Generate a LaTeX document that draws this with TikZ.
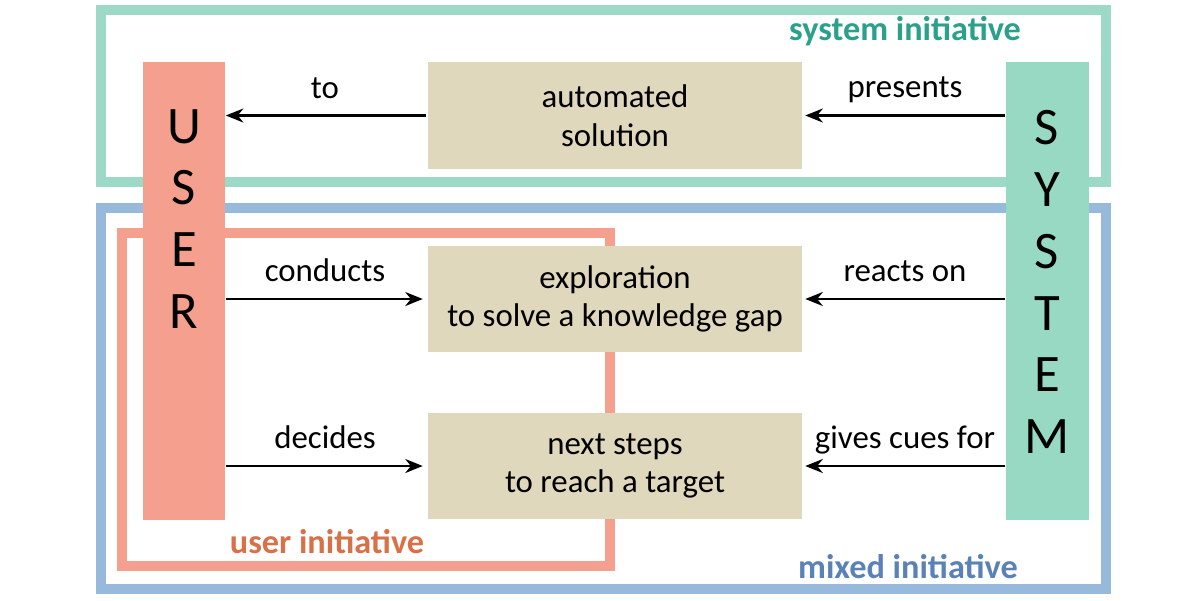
\documentclass[tikz,border=0pt]{standalone}
\usepackage{fontspec}
\setmainfont{Carlito}
\usetikzlibrary{arrows.meta}
\definecolor{sysframe}{HTML}{9CD9C6}
\definecolor{sysfill}{HTML}{98D9C4}
\definecolor{userfill}{HTML}{F5A08F}
\definecolor{mixframe}{HTML}{96B9DC}
\definecolor{beige}{HTML}{DFD8BC}
\definecolor{systxt}{HTML}{2BA08A}
\definecolor{usertxt}{HTML}{D87048}
\definecolor{mixtxt}{HTML}{5B82B6}
\tikzset{
  frame/.style={line width=0.2cm},
  actor/.style={inner sep=0pt, minimum width=1.66cm, minimum height=9.16cm},
  actortxt/.style={font=\fontsize{30}{35.2}\selectfont, align=center, inner sep=0pt},
  content/.style={fill=beige, inner sep=0pt, minimum width=7.48cm, minimum height=2.13cm, align=center, font=\fontsize{18.7}{22}\selectfont},
  lbl/.style={font=\fontsize{18.7}{22}\selectfont, anchor=base, inner sep=0pt},
  ttl/.style={font=\bfseries\fontsize{19.5}{22}\selectfont, anchor=base, inner sep=0pt},
  arr/.style={line width=1.2pt, -{Stealth[length=10pt,width=8pt]}}
}
\begin{document}
\begin{tikzpicture}[x=0.02cm,y=-0.02cm]
\useasboundingbox (0,0) rectangle (1200,600);
% frames
\draw[frame, sysframe] (101,10) rectangle (1106,182);
\draw[frame, mixframe] (101,208) rectangle (1106,589);
\draw[frame, userfill] (122,233) rectangle (610,566);
% actors
\node[actor, fill=userfill] (user) at (184,291) {};
\node[actor, fill=sysfill] (system) at (1047,291) {};
\node[actortxt] (usertext) at (184,219) {U\\S\\E\\R};
\node[actortxt] (systext) at (1047,282) {S\\Y\\S\\T\\E\\M};
% content boxes
\node[content] (auto) at (615,115.5) {automated\\solution};
\node[content] (expl) at (615,299) {exploration\\to solve a knowledge gap};
\node[content] (next) at (615,466) {next steps\\to reach a target};
% arrows
\draw[arr, shorten <=1.1pt] (auto.west) -- (auto.west -| user.east);
\draw[arr, shorten >=1.7pt] (system.west |- auto.east) -- (auto.east);
\draw[arr, shorten >=2.8pt] (user.east |- expl.west) -- (expl.west);
\draw[arr, shorten >=2.8pt] (user.east |- next.west) -- (next.west);
\draw[arr, shorten >=1.7pt] (system.west |- expl.east) -- (expl.east);
\draw[arr, shorten >=1.7pt] (system.west |- next.east) -- (next.east);
% arrow labels
\node[lbl] (lto) at (325,98) {to};
\node[lbl] (lpres) at (905,97) {presents};
\node[lbl] (lcond) at (325,281) {conducts};
\node[lbl] (lreact) at (905,281) {reacts on};
\node[lbl] (ldec) at (325,448) {decides};
\node[lbl] (lgive) at (905,448) {gives cues for};
% titles
\node[ttl, text=systxt] (tsys) at (905,40) {system initiative};
\node[ttl, text=usertxt] (tuser) at (327,553) {user initiative};
\node[ttl, text=mixtxt] (tmix) at (908,578) {mixed initiative};
\end{tikzpicture}
\end{document}
